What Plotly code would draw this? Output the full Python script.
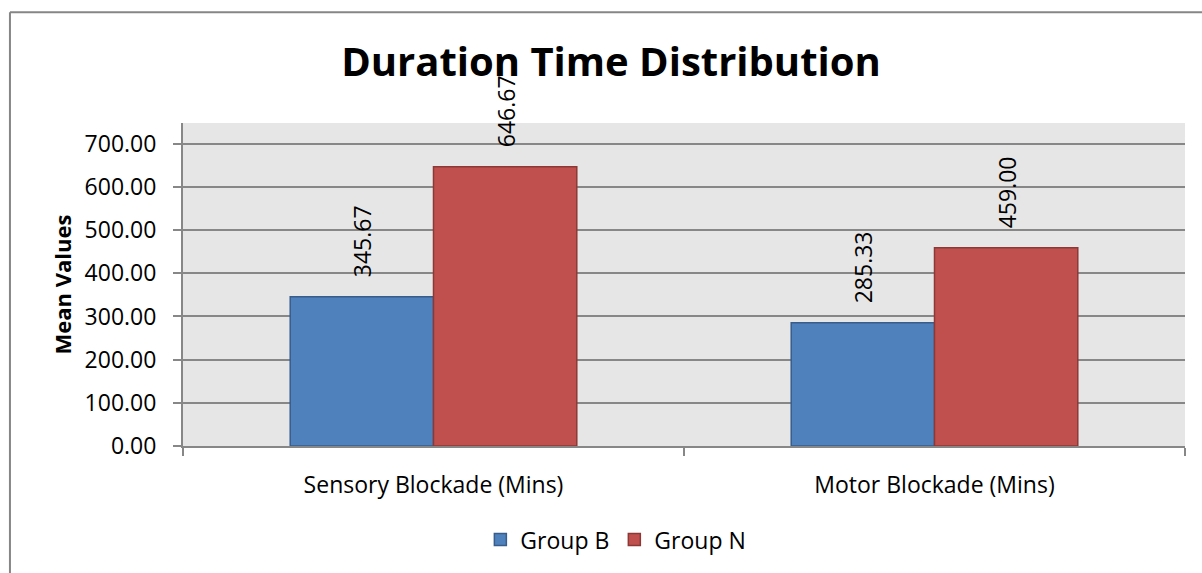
import plotly.graph_objects as go

categories = ["Sensory Blockade (Mins)", "Motor Blockade (Mins)"]
group_b = [345.67, 285.33]
group_n = [646.67, 459.00]
series_names = ["Group B", "Group N"]
y_ticks = [0, 100, 200, 300, 400, 500, 600, 700]

FONT = "Open Sans"
GRID = "#878787"

fig = go.Figure()
fig.add_trace(go.Bar(x=categories, y=group_b, name=series_names[0],
                     marker=dict(color="#4F81BD", line=dict(color="#385D8A", width=1.5))))
fig.add_trace(go.Bar(x=categories, y=group_n, name=series_names[1],
                     marker=dict(color="#C0504D", line=dict(color="#8C3836", width=1.5))))

annotations = []
for vals, shift in ((group_b, -72), (group_n, 72)):
    for c, v in zip(categories, vals):
        annotations.append(dict(x=c, y=v, xref="x", yref="y", text=f"{v:.2f}",
                                showarrow=False, textangle=-90, xshift=shift, yshift=17,
                                xanchor="center", yanchor="bottom",
                                font=dict(family=FONT, size=23, color="black")))
annotations.append(dict(x=-0.1208, y=0.5, xref="paper", yref="paper", text="<b>Mean Values</b>",
                        showarrow=False, textangle=-90, xanchor="center", yanchor="middle",
                        font=dict(family=FONT, size=22, color="black")))

shapes = [
    dict(type="line", xref="paper", yref="paper", x0=-0.1727, x1=1.2, y0=1.3425, y1=1.3425,
         line=dict(color="#868686", width=2)),
    dict(type="line", xref="paper", yref="paper", x0=-0.1727, x1=-0.1727, y0=1.3425, y1=-0.6,
         line=dict(color="#868686", width=2)),
]

fig.update_layout(
    width=1202, height=573,
    margin=dict(l=183, r=17, t=123, b=123),
    paper_bgcolor="white", plot_bgcolor="#E6E6E6",
    barmode="group", bargap=0.428, bargroupgap=0,
    title=dict(text="<b>Duration Time Distribution</b>", x=611 / 1202, xanchor="center",
               y=1 - 62 / 573, yanchor="middle", yref="container",
               font=dict(family=FONT, size=40, color="black")),
    font=dict(family=FONT, size=23, color="black"),
    showlegend=True,
    legend=dict(orientation="h", x=0.432, xanchor="center", y=-0.29, yanchor="middle",
                font=dict(family=FONT, size=23, color="black"), traceorder="normal"),
    annotations=annotations,
    shapes=shapes,
)
fig.update_xaxes(type="category", showline=True, linecolor=GRID, linewidth=2,
                 ticks="outside", tickson="boundaries", ticklen=8, tickcolor=GRID, tickwidth=2,
                 showgrid=False, tickfont=dict(family=FONT, size=23), ticklabelstandoff=17)
fig.update_yaxes(range=[0, 748], tickvals=y_ticks, tickformat=".2f",
                 showline=True, linecolor=GRID, linewidth=2,
                 ticks="outside", ticklen=8, tickcolor=GRID, tickwidth=2,
                 showgrid=True, gridcolor=GRID, gridwidth=2, zeroline=False,
                 tickfont=dict(family=FONT, size=23), ticklabelstandoff=12)

fig.write_html("out.html")
